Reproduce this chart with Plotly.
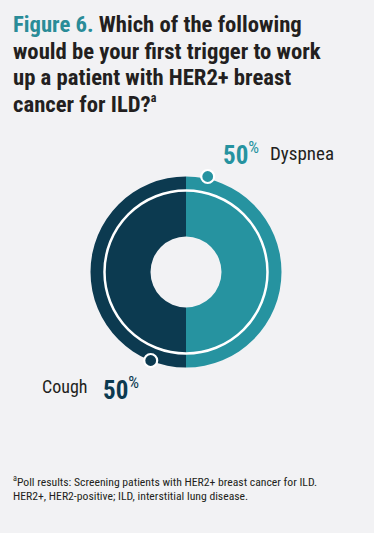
import plotly.graph_objects as go

# ---- data ----
labels = ["Dyspnea", "Cough"]
values = [50, 50]
colors = ["#2693A0", "#0C3A50"]

title_lines = [
    "<span style='color:#2A8C98'>Figure 6.</span> Which of the following",
    "would be your first trigger to work",
    "up a patient with HER2+ breast",
    "cancer for ILD?<sup><span style='font-size:12px'>a</span></sup>",
]
foot_lines = [
    "<sup>a</sup>Poll results: Screening patients with HER2+ breast cancer for ILD.",
    "HER2+, HER2-positive; ILD, interstitial lung disease.",
]

W, H = 374, 533
cx, cy, R = 186, 272, 95.5
hole_r = 35.5
ring_r = 81.5

FONT = "Roboto Condensed, Roboto, sans-serif"
BG = "#F2F2F4"
TXT = "#231F20"


def px(x):
    return x / W


def py(y):
    return 1 - y / H


fig = go.Figure()
fig.add_trace(go.Pie(
    labels=labels, values=values, hole=hole_r / R, sort=False,
    direction="clockwise", rotation=0,
    marker=dict(colors=colors, line=dict(width=0)),
    textinfo="none", hoverinfo="label+percent", showlegend=False,
    domain=dict(x=[px(cx - R), px(cx + R)], y=[py(cy + R), py(cy - R)]),
))

shapes = [
    dict(type="circle", xref="paper", yref="paper",
         x0=px(cx - ring_r), x1=px(cx + ring_r), y0=py(cy + ring_r), y1=py(cy - ring_r),
         line=dict(color="white", width=2.5), fillcolor="rgba(0,0,0,0)"),
]
for (dx, dy, col) in [(207.7, 176.5, colors[0]), (150.7, 360.5, colors[1])]:
    shapes.append(dict(type="circle", xref="paper", yref="paper",
                       xsizemode="pixel", ysizemode="pixel",
                       xanchor=px(dx), yanchor=py(dy),
                       x0=-6.5, x1=6.5, y0=-6.5, y1=6.5,
                       fillcolor=col, line=dict(color="white", width=2.2)))

annotations = []
for i, t in enumerate(title_lines):
    annotations.append(dict(text="<b>" + t + "</b>", x=px(10.5), y=py(24.5 + 26.6 * i),
                            xref="paper", yref="paper", xanchor="left", yanchor="middle",
                            align="left", showarrow=False,
                            font=dict(family=FONT, size=22.7, color=TXT)))

pct = "<b>%d</b><sup><span style='font-size:17px;font-weight:normal'>%%</span></sup>"
annotations += [
    dict(text=pct % values[0], x=px(220.5), y=py(153), xref="paper", yref="paper",
         xanchor="left", yanchor="middle", showarrow=False,
         font=dict(family=FONT, size=25, color=colors[0])),
    dict(text=labels[0], x=px(268), y=py(154), xref="paper", yref="paper",
         xanchor="left", yanchor="middle", showarrow=False,
         font=dict(family=FONT, size=19, color=TXT)),
    dict(text=labels[1], x=px(89.5), y=py(386), xref="paper", yref="paper",
         xanchor="right", yanchor="middle", showarrow=False,
         font=dict(family=FONT, size=18, color=TXT)),
    dict(text=pct % values[1], x=px(100.5), y=py(388), xref="paper", yref="paper",
         xanchor="left", yanchor="middle", showarrow=False,
         font=dict(family=FONT, size=25, color=colors[1])),
]
for i, t in enumerate(foot_lines):
    annotations.append(dict(text=t, x=px(10.5), y=py(481 + 14.5 * i),
                            xref="paper", yref="paper", xanchor="left", yanchor="middle",
                            align="left", showarrow=False,
                            font=dict(family=FONT, size=11.7, color=TXT)))

fig.update_layout(
    width=W, height=H, margin=dict(l=0, r=0, t=0, b=0),
    paper_bgcolor=BG, plot_bgcolor=BG,
    shapes=shapes, annotations=annotations,
)
fig.write_html(
    "out.html",
    config={"displayModeBar": False},
    post_script="document.body.style.margin='0';document.body.style.background='%s';" % BG,
)
